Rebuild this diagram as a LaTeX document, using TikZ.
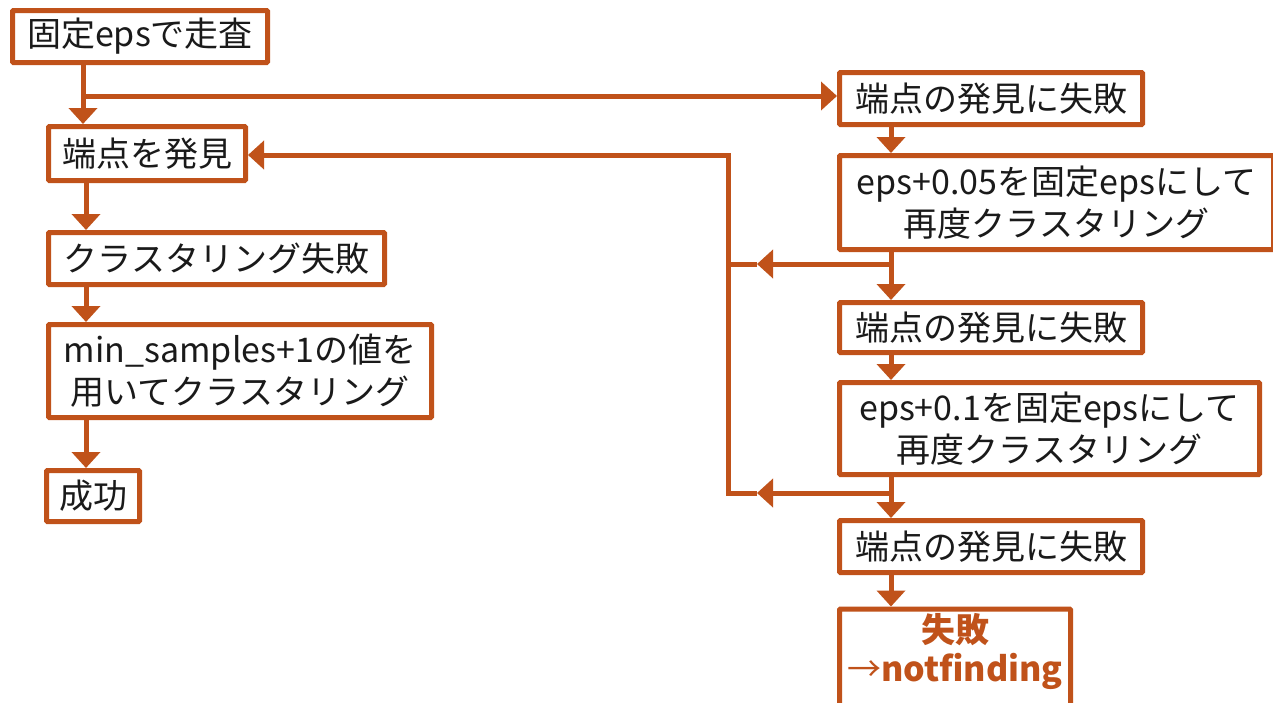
\documentclass[tikz,border=0pt]{standalone}
\usepackage{fontspec}
\setmainfont{Noto Sans CJK JP}
\usetikzlibrary{arrows.meta}
\definecolor{rust}{HTML}{C0521A}
\definecolor{ink}{HTML}{1A1A1A}
\tikzset{
  box/.style={draw=rust, line width=5pt, fill=white, inner sep=0pt, align=center,
    rounded corners=1pt, text=ink, font=\fontsize{34}{42}\selectfont},
  conn/.style={draw=rust, line width=5pt},
  arr/.style={conn, -{Triangle[width=28pt,length=16pt]}},
}
\begin{document}
\begin{tikzpicture}[x=1pt, y=-1pt]
\path[use as bounding box, fill=white] (0,0) rectangle (1273,702);
\clip (0,0) rectangle (1273,702);

% left column
\node[box, minimum width=255pt, minimum height=52pt] (b1) at (140,36.5) {固定epsで走査};
\node[box, minimum width=197pt, minimum height=54pt] (b2) at (147,153.5) {端点を発見};
\node[box, minimum width=336pt, minimum height=52pt] (b4) at (216.5,258.5) {クラスタリング失敗};
\node[box, minimum width=383pt, minimum height=93pt] (b5) at (240,371) {min\_samples+1の値を\\用いてクラスタリング};
\node[box, minimum width=93pt, minimum height=51pt] (b6) at (93,496) {成功};

% right column
\node[box, minimum width=303pt, minimum height=52pt] (b3) at (991,98.5) {端点の発見に失敗};
\node[box, minimum width=434pt, minimum height=94pt] (b7) at (1056.5,202.5) {eps+0.05を固定epsにして\\再度クラスタリング};
\node[box, minimum width=303pt, minimum height=50pt] (b8) at (991,327.5) {端点の発見に失敗};
\node[box, minimum width=420pt, minimum height=92pt] (b9) at (1049.5,428.5) {eps+0.1を固定epsにして\\再度クラスタリング};
\node[box, minimum width=303pt, minimum height=52pt] (b10) at (991,546.5) {端点の発見に失敗};
\node[box, minimum width=231pt, minimum height=121pt, anchor=north] (b11) at (955,606.5) {};
\node[anchor=north, inner sep=0pt, align=center, text=rust,
      font=\fontsize{34}{39}\selectfont\bfseries] (b11t) at ([yshift=-7pt]b11.north) {失敗\\{\mdseries →}notfinding};

% junction coordinates
\coordinate (j1) at (83,96);
\coordinate (k) at (86,0);
\coordinate (j2) at (728,155);
\coordinate (j3) at (891,264);
\coordinate (m1) at (757,264);
\coordinate (j4) at (728,493);
\coordinate (j5) at (891,493);
\coordinate (m2) at (757,493);

% left connectors
\draw[arr] (b1.south -| j1) -- (b2.north -| j1);
\draw[arr] (j1) -- (b3.west |- j1);
\draw[arr] (b2.south -| k) -- (b4.north -| k);
\draw[arr] (b4.south -| k) -- (b5.north -| k);
\draw[arr] (b5.south -| k) -- (b6.north -| k);

% right connectors
\draw[arr] (b3.south -| j3) -- (b7.north -| j3);
\draw[arr] (b7.south -| j3) -- (b8.north -| j3);
\draw[arr] (b8.south -| j3) -- (b9.north -| j3);
\draw[arr] (b9.south -| j5) -- (b10.north -| j5);
\draw[arr] (b10.south -| j5) -- (b11.north -| j5);

% feedback loops
\draw[arr] (j3) -- (m1);
\draw[conn] (m1) -- (j3 -| j2);
\draw[arr] (j5) -- (m2);
\draw[arr] (m2) -- (j4) -- (j2) -- (b2.east |- j2);
\end{tikzpicture}
\end{document}
